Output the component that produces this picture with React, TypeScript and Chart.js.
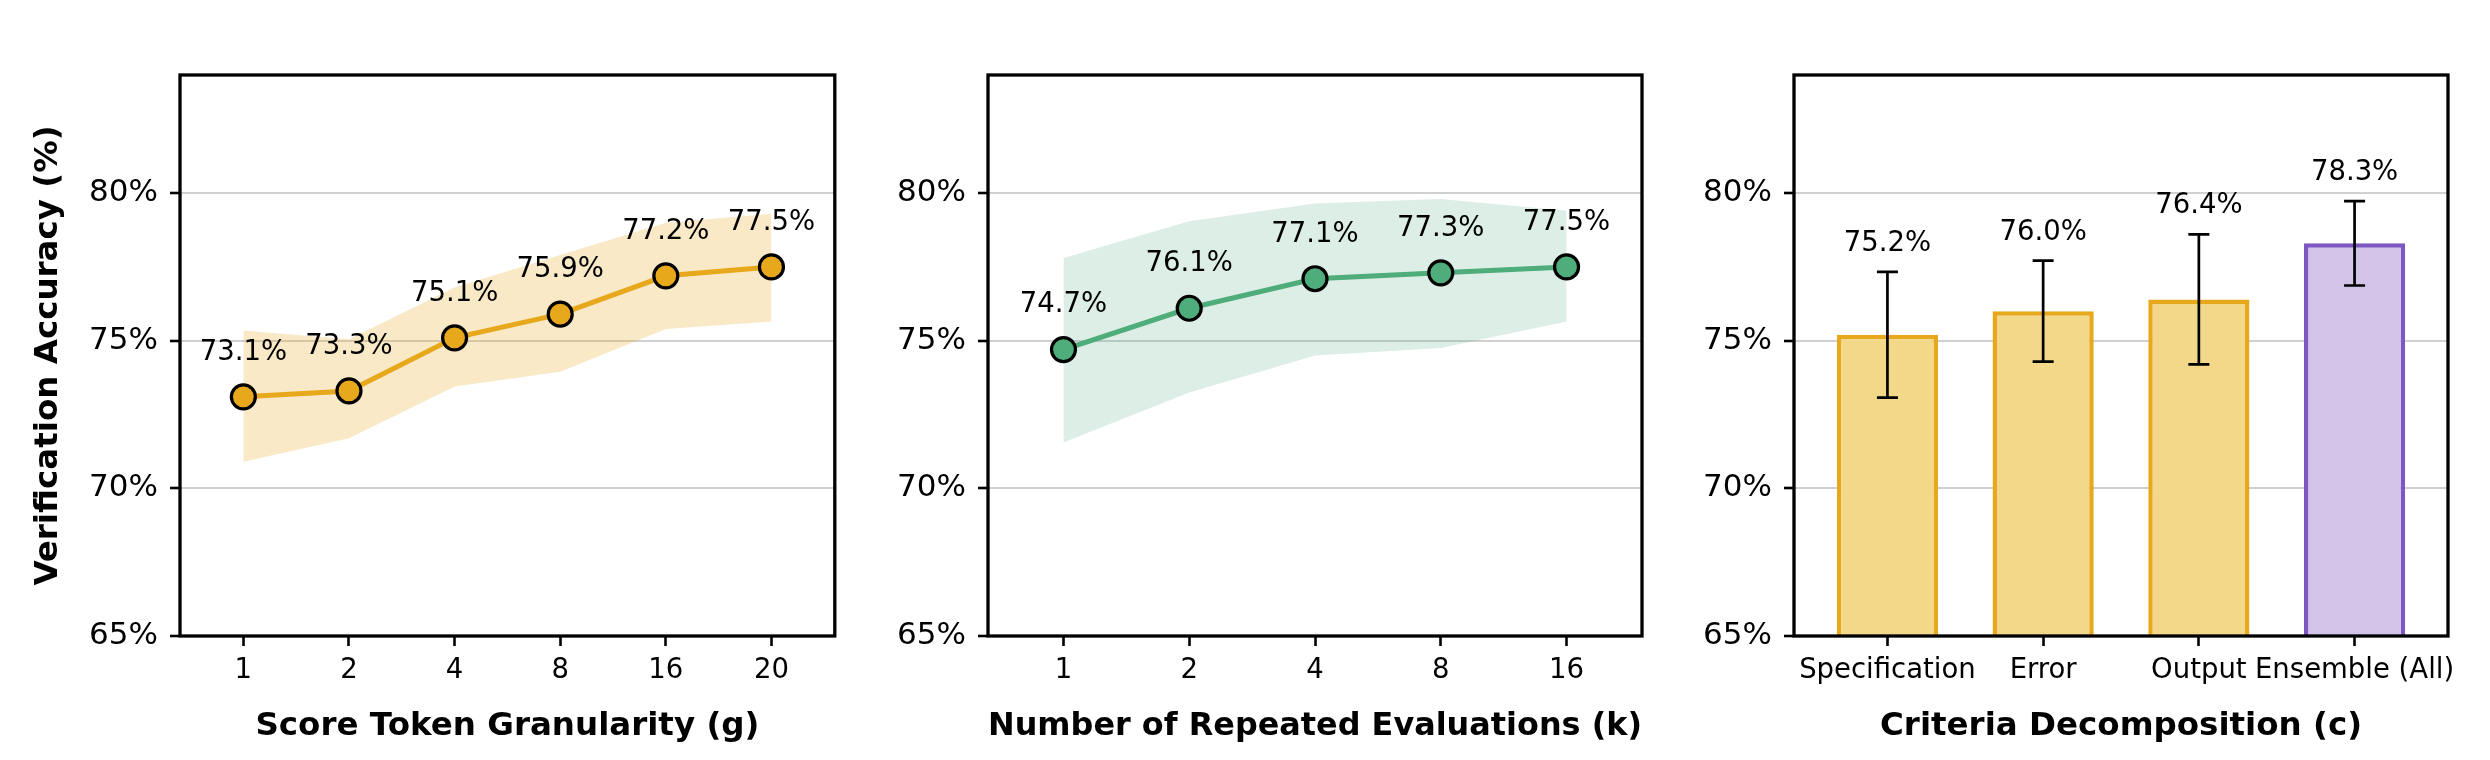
import React, { useEffect, useRef } from "react";
import { Chart, registerables } from "chart.js";

Chart.register(...registerables);

const FONT = "'DejaVu Sans', sans-serif";

// Panel (a): score token granularity
const granularityLabels = ["1", "2", "4", "8", "16", "20"];
const granularityAcc = [73.1, 73.3, 75.1, 75.9, 77.2, 77.5];
const granularityLow = [70.9, 71.7, 73.45, 73.95, 75.4, 75.65];
const granularityHigh = [75.35, 75.05, 76.8, 77.9, 79.0, 79.3];

// Panel (b): number of repeated evaluations
const repeatLabels = ["1", "2", "4", "8", "16"];
const repeatAcc = [74.7, 76.1, 77.1, 77.3, 77.5];
const repeatLow = [71.55, 73.25, 74.5, 74.75, 75.65];
const repeatHigh = [77.8, 79.05, 79.65, 79.8, 79.4];

// Panel (c): criteria decomposition
const criteriaLabels = ["Specification", "Error", "Output", "Ensemble (All)"];
const criteriaAcc = [75.2, 76.0, 76.4, 78.3];
const criteriaErr = [2.13, 1.71, 2.2, 1.43];

// Shared y axis
const yTickValues = [65, 70, 75, 80];
const Y_MIN = 65;
const Y_MAX = 84;

const ORANGE = "#E8A81B";
const ORANGE_BAND = "rgba(232,168,27,0.25)";
const GREEN = "#4FAC7B";
const GREEN_BAND = "rgba(79,172,123,0.2)";
const BAR_FILLS = ["#F3D88A", "#F3D88A", "#F3D88A", "#D1C4E8"];
const BAR_EDGES = [ORANGE, ORANGE, ORANGE, "#7E57C2"];

const H = 760;

const framePlugin = {
  id: "frame",
  afterDatasetsDraw(chart: any) {
    const { ctx, chartArea: a } = chart;
    ctx.save();
    ctx.strokeStyle = "#000";
    ctx.lineWidth = 3.3;
    ctx.strokeRect(a.left, a.top, a.right - a.left, a.bottom - a.top);
    ctx.restore();
  },
};

function drawValueText(ctx: any, text: string, x: number, yCenter: number) {
  const size = 27.5;
  ctx.save();
  ctx.font = `${size}px ${FONT}`;
  ctx.fillStyle = "#000";
  ctx.textAlign = "center";
  ctx.textBaseline = "alphabetic";
  ctx.fillText(text, x, yCenter + 0.3645 * size);
  ctx.restore();
}

function pointLabelPlugin(values: number[], offset: number) {
  return {
    id: "pointLabels",
    afterDatasetsDraw(chart: any) {
      const { ctx, scales } = chart;
      values.forEach((v, i) => {
        const x = scales.x.getPixelForValue(i);
        const y = scales.y.getPixelForValue(v + offset);
        drawValueText(ctx, `${v.toFixed(1)}%`, x, y);
      });
    },
  };
}

function errorBarPlugin(values: number[], errs: number[]) {
  return {
    id: "errorBars",
    afterDatasetsDraw(chart: any) {
      const { ctx, scales } = chart;
      ctx.save();
      ctx.strokeStyle = "#000";
      ctx.lineWidth = 2.7;
      values.forEach((v, i) => {
        const x = scales.x.getPixelForValue(i);
        const yTop = scales.y.getPixelForValue(v + errs[i]);
        const yBot = scales.y.getPixelForValue(v - errs[i]);
        const cap = 10.5;
        ctx.beginPath();
        ctx.moveTo(x, yTop);
        ctx.lineTo(x, yBot);
        ctx.moveTo(x - cap, yTop);
        ctx.lineTo(x + cap, yTop);
        ctx.moveTo(x - cap, yBot);
        ctx.lineTo(x + cap, yBot);
        ctx.stroke();
      });
      ctx.restore();
      values.forEach((v, i) => {
        const x = scales.x.getPixelForValue(i);
        const y = scales.y.getPixelForValue(v + errs[i] + 1.05);
        drawValueText(ctx, `${v.toFixed(1)}%`, x, y);
      });
    },
  };
}

function baseOptions(
  labels: string[],
  yAxisWidth: number,
  padRight: number,
  xTitle: string,
  yTitle: string | null
) {
  return {
    animation: false,
    responsive: false,
    maintainAspectRatio: false,
    devicePixelRatio: 1,
    layout: { padding: { left: 0, right: padRight, top: 75, bottom: 0 } },
    plugins: { legend: { display: false }, tooltip: { enabled: false } },
    scales: {
      x: {
        type: "linear",
        offset: false,
        min: -0.6,
        max: labels.length - 0.4,
        afterBuildTicks: (s: any) => {
          s.ticks = labels.map((_, i) => ({ value: i }));
        },
        afterFit: (s: any) => {
          s.height = 124;
        },
        ticks: {
          callback: (v: number) => labels[v],
          font: { family: FONT, size: 27.5 },
          color: "#000",
          padding: 8,
          autoSkip: false,
          maxRotation: 0,
          minRotation: 0,
        },
        grid: {
          display: true,
          offset: false,
          drawOnChartArea: false,
          drawTicks: true,
          tickLength: 10,
          tickColor: "#000",
          tickWidth: 2.6,
        },
        border: { display: false },
        title: {
          display: true,
          text: xTitle,
          font: { family: FONT, size: 32.5, weight: "bold" },
          color: "#000",
          padding: { top: 0, bottom: 14 },
        },
      },
      y: {
        type: "linear",
        min: Y_MIN,
        max: Y_MAX,
        afterBuildTicks: (s: any) => {
          s.ticks = yTickValues.map((v) => ({ value: v }));
        },
        afterFit: (s: any) => {
          s.width = yAxisWidth;
        },
        ticks: {
          callback: (v: number) => `${v}%`,
          font: { family: FONT, size: 31 },
          color: "#000",
          padding: 12,
        },
        grid: {
          color: "#d0d0d0",
          lineWidth: 2,
          drawTicks: true,
          tickLength: 10,
          tickColor: "#000",
          tickWidth: 2.6,
        },
        border: { display: false },
        title: yTitle
          ? {
              display: true,
              text: yTitle,
              font: { family: FONT, size: 32.5, weight: "bold" },
              color: "#000",
              padding: { top: 29, bottom: 0 },
            }
          : { display: false },
      },
    },
  };
}

function lineConfig(
  labels: string[],
  acc: number[],
  low: number[],
  high: number[],
  color: string,
  band: string,
  yAxisWidth: number,
  padRight: number,
  xTitle: string,
  yTitle: string | null
) {
  const pts = (arr: number[]) => arr.map((y, i) => ({ x: i, y }));
  return {
    type: "line",
    data: {
      datasets: [
        {
          data: pts(acc),
          borderColor: color,
          borderWidth: 5,
          tension: 0,
          fill: false,
          pointRadius: 12,
          pointBackgroundColor: color,
          pointBorderColor: "#000",
          pointBorderWidth: 3.2,
        },
        {
          data: pts(high),
          borderWidth: 0,
          borderColor: "rgba(0,0,0,0)",
          backgroundColor: band,
          pointRadius: 0,
          tension: 0,
          fill: "+1",
        },
        {
          data: pts(low),
          borderWidth: 0,
          borderColor: "rgba(0,0,0,0)",
          pointRadius: 0,
          tension: 0,
          fill: false,
        },
      ],
    },
    options: baseOptions(labels, yAxisWidth, padRight, xTitle, yTitle),
    plugins: [framePlugin, pointLabelPlugin(acc, 1.6)],
  };
}

function barConfig(yAxisWidth: number, padRight: number) {
  return {
    type: "bar",
    data: {
      datasets: [
        {
          data: criteriaAcc.map((y, i) => ({ x: i, y })),
          backgroundColor: BAR_FILLS,
          borderColor: BAR_EDGES,
          borderWidth: 4.5,
          borderSkipped: "start",
          categoryPercentage: 0.65,
          barPercentage: 1,
        },
      ],
    },
    options: baseOptions(criteriaLabels, yAxisWidth, padRight, "Criteria Decomposition (c)", null),
    plugins: [framePlugin, errorBarPlugin(criteriaAcc, criteriaErr)],
  };
}

function Panel({ left, width, config }: { left: number; width: number; config: () => any }) {
  const ref = useRef<HTMLCanvasElement>(null);
  useEffect(() => {
    const chart = new Chart(ref.current as HTMLCanvasElement, config() as any);
    return () => chart.destroy();
  }, []);
  return (
    <canvas
      ref={ref}
      width={width}
      height={H}
      style={{ position: "absolute", left, top: 0, width, height: H }}
    />
  );
}

export default function App() {
  return (
    <div style={{ position: "absolute", left: 0, top: 0, width: 2490, height: H, background: "#fff" }}>
      <Panel
        left={0}
        width={850}
        config={() =>
          lineConfig(
            granularityLabels,
            granularityAcc,
            granularityLow,
            granularityHigh,
            ORANGE,
            ORANGE_BAND,
            180,
            15,
            "Score Token Granularity (g)",
            "Verification Accuracy (%)"
          )
        }
      />
      <Panel
        left={850}
        width={810}
        config={() =>
          lineConfig(
            repeatLabels,
            repeatAcc,
            repeatLow,
            repeatHigh,
            GREEN,
            GREEN_BAND,
            138,
            18,
            "Number of Repeated Evaluations (k)",
            null
          )
        }
      />
      <Panel left={1660} width={830} config={() => barConfig(134, 42)} />
    </div>
  );
}
